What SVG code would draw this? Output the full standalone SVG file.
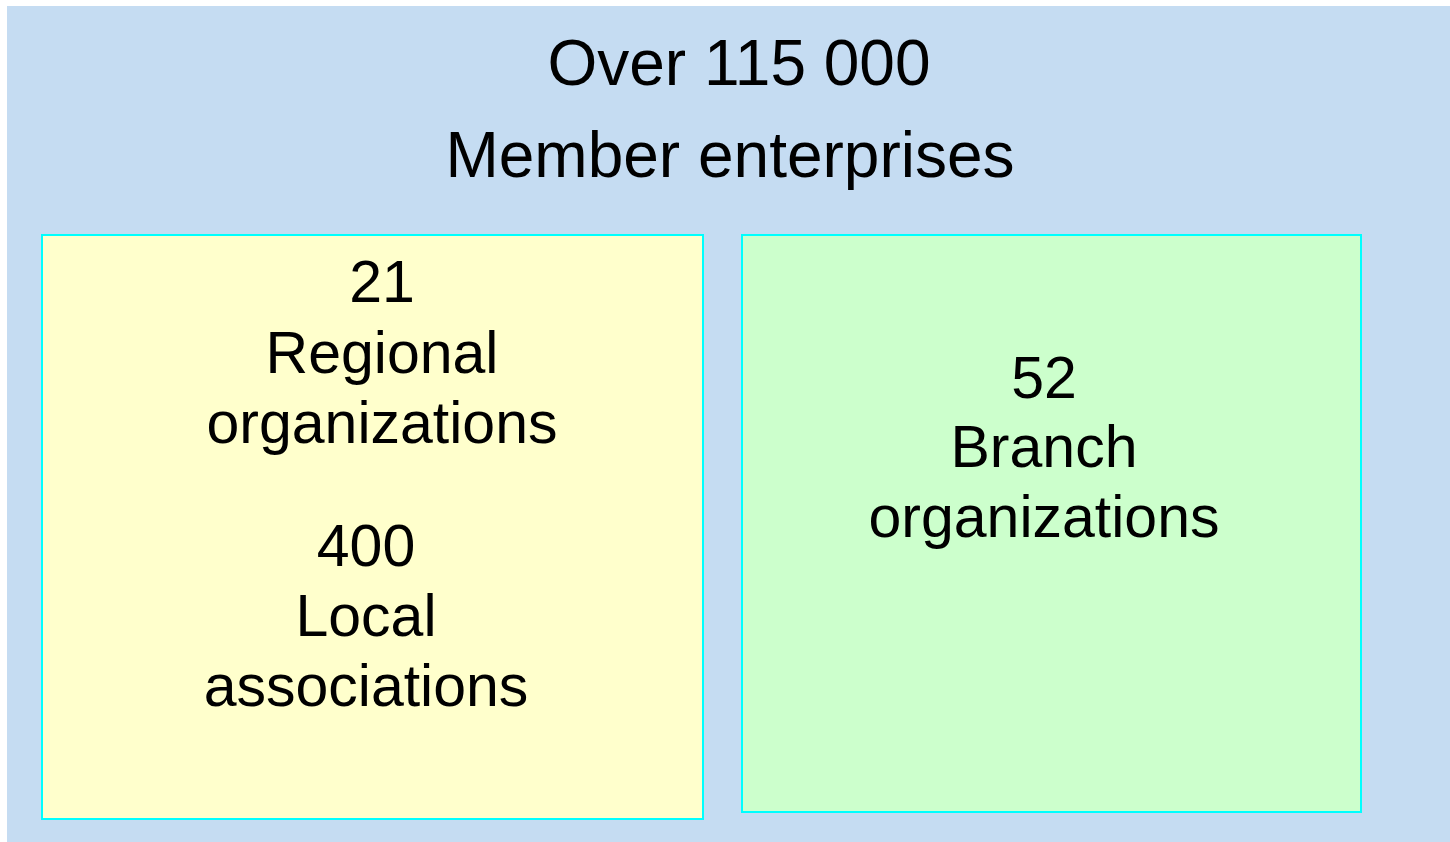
<svg xmlns="http://www.w3.org/2000/svg" width="1450" height="842" viewBox="0 0 1450 842">
<style>
.t{font-family:"Liberation Sans",Arial,sans-serif;fill:#000;text-anchor:middle}
.big{font-size:64px}
.mid{font-size:59px}
.box{stroke:#00FFFF;stroke-width:2}
</style>
<rect x="0" y="0" width="1450" height="842" fill="#FFFFFF"/>
<g id="members">
<rect x="7" y="6" width="1443" height="836" fill="#C5DCF2"/>
<text class="t big" x="739" y="85">Over 115 000</text>
<text class="t big" x="730" y="177">Member enterprises</text>
</g>
<g id="regional">
<rect class="box" x="42" y="235" width="661" height="584" fill="#FFFFCC"/>
<text class="t mid" x="382" y="302">21</text>
<text class="t mid" x="382" y="373">Regional</text>
<text class="t mid" x="382" y="443">organizations</text>
<text class="t mid" x="366" y="566">400</text>
<text class="t mid" x="366" y="636">Local</text>
<text class="t mid" x="366" y="706">associations</text>
</g>
<g id="branch">
<rect class="box" x="742" y="235" width="619" height="577" fill="#CCFFCC"/>
<text class="t mid" x="1044" y="398">52</text>
<text class="t mid" x="1044" y="467">Branch</text>
<text class="t mid" x="1044" y="537">organizations</text>
</g>
<g id="connectors"/>
</svg>
